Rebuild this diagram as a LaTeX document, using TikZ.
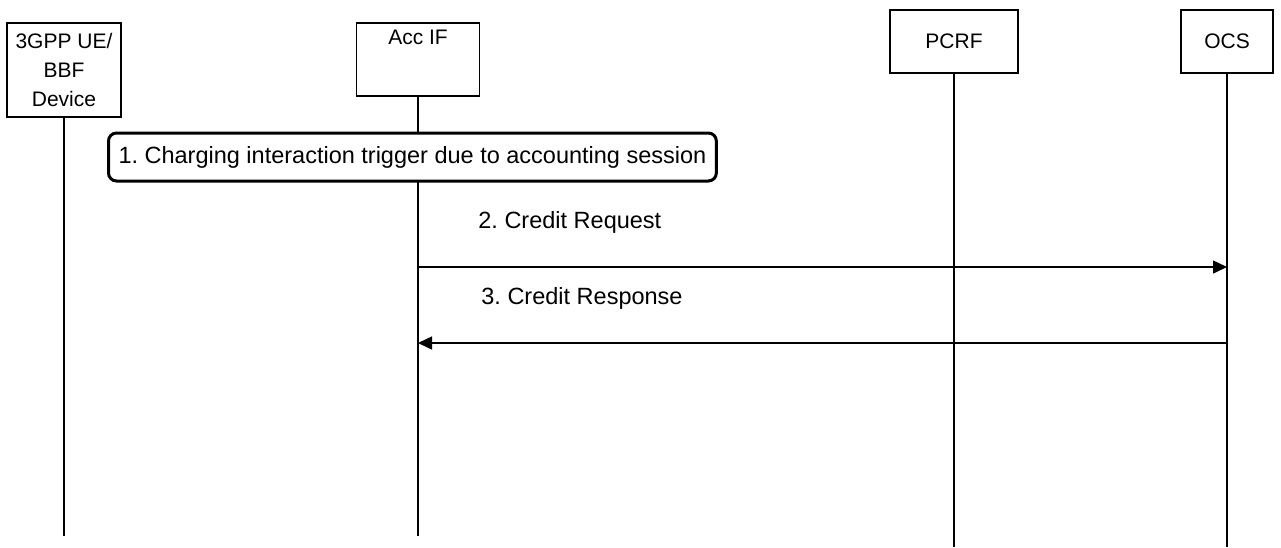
\documentclass[tikz,border=0pt]{standalone}
\usepackage{fontspec}
\setmainfont{Liberation Sans}
\usetikzlibrary{arrows.meta,positioning}
\tikzset{
  entity/.style={draw,line width=0.75pt,inner sep=0pt,font=\fontsize{10.5}{14.5}\selectfont},
  lifeline/.style={line width=0.75pt},
  msg/.style={line width=0.75pt,-{Triangle[length=7pt,width=6.5pt]}},
  stepbox/.style={draw,line width=1.5pt,rounded corners=4pt,fill=white,inner xsep=5pt,inner ysep=0pt,minimum height=24pt},
  msglabel/.style={anchor=west,inner sep=0pt},
}
\begin{document}
\frenchspacing
\begin{tikzpicture}[x=0.5pt,y=-0.5pt,font=\fontsize{11.75}{14.5}\selectfont]
\useasboundingbox (0,0) rectangle (1281,547);
% entities
\node[entity,minimum width=57pt,minimum height=47pt,align=center] (ue) at (64,70) {3GPP UE/\\BBF\\Device};
\node[entity,minimum width=61.5pt,minimum height=36.5pt] (accif) at (418,59.5) {};
\node[font=\fontsize{10.5}{14.5}\selectfont] (accif label) at ([yshift=-7.5pt]accif.north) {Acc IF};
\node[entity,minimum width=64pt,minimum height=31.5pt] (pcrf) at (954,41.5) {PCRF};
\node[entity,minimum width=46pt,minimum height=31.5pt] (ocs) at (1227,41.5) {OCS};
% lifelines
\coordinate (short end) at (0,536);
\coordinate (long end) at (0,547);
\draw[lifeline] (ue) -- (ue |- short end);
\draw[lifeline] (accif) -- (accif |- short end);
\draw[lifeline] (pcrf) -- (pcrf |- long end);
\draw[lifeline] (ocs) -- (ocs |- long end);
% steps
\node[stepbox,anchor=west] (trigger) at (107,157) {1. Charging interaction trigger due to accounting session};
\coordinate (req) at (0,267);
\coordinate (resp) at (0,343);
\node[msglabel] (req label) at (478,222) {2. Credit Request};
\draw[msg] (accif |- req) -- (ocs |- req);
\node[msglabel] (resp label) at (481,298) {3. Credit Response};
\draw[msg] (ocs |- resp) -- (accif |- resp);
\end{tikzpicture}
\end{document}
